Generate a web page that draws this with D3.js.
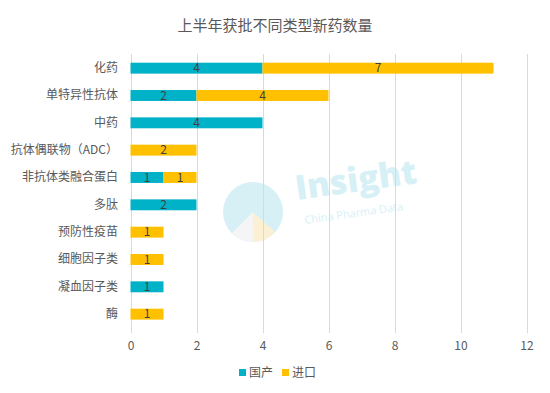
<!DOCTYPE html>
<html>
<head>
<meta charset="utf-8">
<script src="https://cdn.jsdelivr.net/npm/d3@7"></script>
<style>
  body { margin: 0; background: #fff; }
  svg { display: block; font-family: "Microsoft YaHei", "Noto Sans CJK SC", sans-serif; }
</style>
</head>
<body>
<div id="chart"></div>
<script>
// data
const categories = ["化药", "单特异性抗体", "中药", "抗体偶联物（ADC）", "非抗体类融合蛋白", "多肽", "预防性疫苗", "细胞因子类", "凝血因子类", "酶"];
const domestic = [4, 2, 4, 0, 1, 2, 0, 0, 1, 0];
const imported = [7, 4, 0, 2, 1, 0, 1, 1, 0, 1];
const seriesNames = ["国产", "进口"];
const colors = ["#00b2c8", "#ffc000"];
const xTicks = [0, 2, 4, 6, 8, 10, 12];

const W = 550, H = 393;
const svg = d3.select("#chart").append("svg").attr("width", W).attr("height", H);

// watermark
const wm = svg.append("g").attr("opacity", 0.9);
wm.append("circle").attr("cx", 253).attr("cy", 212).attr("r", 30).attr("fill", "#d3eff6");
wm.append("path").attr("d", "M253,212 L275,232 A30,30 0 0 1 253,242 Z").attr("fill", "#fcefd0");
wm.append("path").attr("d", "M253,212 L253,242 A30,30 0 0 1 232,233 Z").attr("fill", "#f4f4f4");
wm.append("text").attr("x", 297).attr("y", 200).attr("transform", "rotate(-8,297,200)")
  .attr("font-size", 34).attr("font-weight", 800).attr("fill", "#d3eff6")
  .attr("font-family", "'Open Sans', sans-serif").text("Insight");
wm.append("text").attr("x", 305).attr("y", 224).attr("transform", "rotate(-8,305,224)")
  .attr("font-size", 11).attr("fill", "#d3eff6")
  .attr("font-family", "'Open Sans', sans-serif").text("China Pharma Data");

// title
svg.append("text").attr("x", 275).attr("y", 31).attr("text-anchor", "middle")
  .attr("font-size", 15).attr("fill", "#595959").text("上半年获批不同类型新药数量");

const x = d3.scaleLinear().domain([0, 12]).range([130.5, 526.5]);
const y = d3.scaleBand().domain(categories).range([54.5, 327.8]).paddingInner(0.6).paddingOuter(0.3);

// grid
svg.append("g").selectAll("line").data(xTicks).join("line")
  .attr("x1", d => Math.round(x(d)) + 0.5).attr("x2", d => Math.round(x(d)) + 0.5)
  .attr("y1", 54).attr("y2", 333)
  .attr("stroke", "#d9d9d9").attr("stroke-width", 1);

// x axis labels
const xAxis = svg.append("g").attr("transform", "translate(0,333)")
  .call(d3.axisBottom(x).tickValues(xTicks).tickSize(0).tickPadding(8));
xAxis.select(".domain").remove();
xAxis.selectAll("text").attr("font-size", 12).attr("fill", "#595959").attr("font-family", "'Microsoft YaHei', 'Noto Sans CJK SC', sans-serif");

// y axis labels
const yAxis = svg.append("g").attr("transform", "translate(130,0)")
  .call(d3.axisLeft(y).tickSize(0).tickPadding(12));
yAxis.select(".domain").remove();
yAxis.selectAll("text").attr("font-size", 12).attr("fill", "#595959").attr("font-family", "'Microsoft YaHei', 'Noto Sans CJK SC', sans-serif");

// stacked bars
const rows = categories.map((c, i) => ({ cat: c, v: [domestic[i], imported[i]] }));
const stack = d3.stack().keys([0, 1]).value((d, k) => d.v[k]);
const layers = stack(rows);

layers.forEach((layer, k) => {
  const g = svg.append("g");
  g.selectAll("rect").data(layer.filter(d => d[1] > d[0])).join("rect")
    .attr("x", d => x(d[0]))
    .attr("width", d => x(d[1]) - x(d[0]))
    .attr("y", d => y(d.data.cat))
    .attr("height", y.bandwidth())
    .attr("fill", colors[k]);
  g.selectAll("text").data(layer.filter(d => d[1] > d[0])).join("text")
    .attr("x", d => (x(d[0]) + x(d[1])) / 2)
    .attr("y", d => y(d.data.cat) + y.bandwidth() / 2)
    .attr("dy", "0.36em")
    .attr("text-anchor", "middle")
    .attr("font-size", 12).attr("fill", "#404040")
    .text(d => d[1] - d[0]);
});

// legend
const legend = svg.append("g").attr("transform", "translate(239,373)");
const lx = [0, 43];
seriesNames.forEach((name, i) => {
  legend.append("rect").attr("x", lx[i]).attr("y", -4).attr("width", 7).attr("height", 7).attr("fill", colors[i]);
  legend.append("text").attr("x", lx[i] + 10).attr("y", 0).attr("dy", "0.36em")
    .attr("font-size", 12).attr("fill", "#595959").text(name);
});
</script>
</body>
</html>
